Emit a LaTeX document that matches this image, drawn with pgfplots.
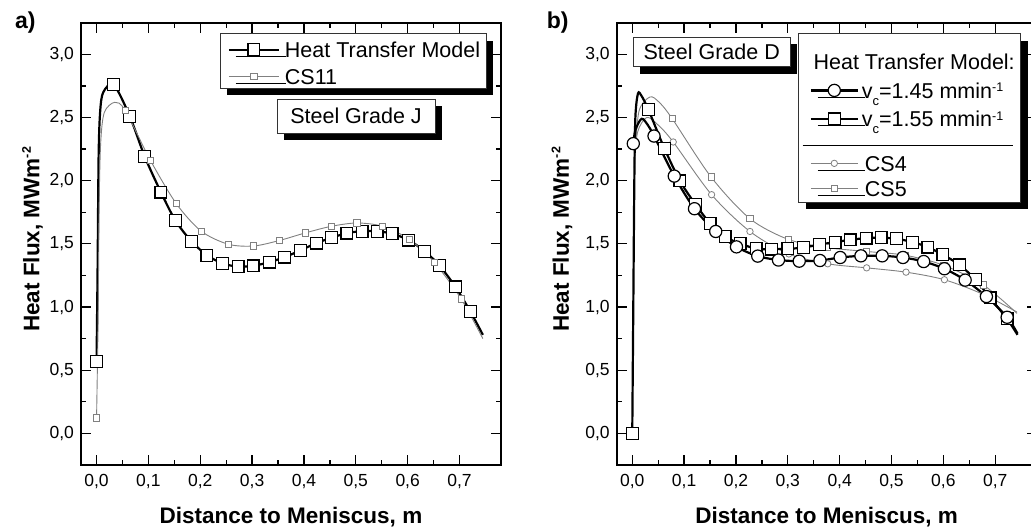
\documentclass[border=0pt]{standalone}
\usepackage{fontspec}
\setmainfont{Liberation Sans}
\usepackage{pgfplots}
\pgfplotsset{compat=1.18}
\usepackage{pgfplotstable}
\usetikzlibrary{shadows}
\definecolor{cgray}{RGB}{128,128,128}

\pgfplotstableread{
x y m
0.000 0.57 1
0.002 1.30 0
0.004 2.20 0
0.007 2.55 0
0.013 2.70 0
0.033 2.76 1
0.064 2.51 1
0.093 2.19 1
0.124 1.91 1
0.152 1.685 1
0.183 1.52 1
0.213 1.41 1
0.243 1.345 1
0.273 1.32 1
0.302 1.326 1
0.333 1.355 1
0.363 1.395 1
0.393 1.448 1
0.424 1.506 1
0.453 1.548 1
0.483 1.585 1
0.512 1.60 1
0.541 1.60 1
0.570 1.58 1
0.602 1.53 1
0.633 1.44 1
0.661 1.33 1
0.692 1.16 1
0.721 0.964 1
0.745 0.78 0
}\htmJ

\pgfplotstableread{
x y m
0.000 0.122 1
0.003 0.90 0
0.005 1.80 0
0.008 2.30 0
0.015 2.54 0
0.035 2.62 0
0.055 2.557 1
0.104 2.16 1
0.154 1.817 1
0.202 1.60 1
0.254 1.497 1
0.303 1.483 1
0.353 1.527 1
0.403 1.587 1
0.453 1.639 1
0.502 1.665 1
0.551 1.639 1
0.603 1.536 1
0.652 1.35 1
0.703 1.065 1
0.745 0.75 0
}\csEleven

\pgfplotstableread{
x y m
0.002 2.293 1
0.006 2.40 0
0.018 2.49 0
0.030 2.44 0
0.042 2.353 1
0.081 2.036 1
0.120 1.778 1
0.161 1.598 1
0.201 1.476 1
0.242 1.403 1
0.282 1.372 1
0.322 1.363 1
0.362 1.368 1
0.401 1.392 1
0.441 1.405 1
0.482 1.405 1
0.522 1.392 1
0.562 1.360 1
0.602 1.303 1
0.642 1.213 1
0.683 1.083 1
0.723 0.919 1
0.743 0.79 0
}\vOneFourFive

\pgfplotstableread{
x y m
0.000 0.000 1
0.002 1.00 0
0.004 2.00 0
0.006 2.50 0
0.011 2.69 0
0.018 2.67 0
0.031 2.563 1
0.062 2.255 1
0.092 1.998 1
0.122 1.812 1
0.150 1.663 1
0.179 1.557 1
0.208 1.502 1
0.239 1.462 1
0.268 1.458 1
0.300 1.461 1
0.330 1.470 1
0.361 1.495 1
0.391 1.513 1
0.420 1.532 1
0.451 1.545 1
0.480 1.548 1
0.510 1.540 1
0.541 1.513 1
0.570 1.474 1
0.599 1.414 1
0.631 1.334 1
0.662 1.216 1
0.690 1.073 1
0.723 0.906 1
0.743 0.78 0
}\vOneFiveFive

\pgfplotstableread{
x y m
0.004 2.10 0
0.010 2.38 0
0.028 2.50 0
0.050 2.44 0
0.079 2.306 1
0.153 1.889 1
0.227 1.598 1
0.302 1.420 1
0.377 1.342 1
0.452 1.310 1
0.528 1.276 1
0.602 1.216 1
0.677 1.100 1
0.742 0.960 0
}\csFour

\pgfplotstableread{
x y m
0.005 2.20 0
0.013 2.55 0
0.034 2.662 0
0.052 2.62 0
0.077 2.491 1
0.152 2.029 1
0.227 1.699 1
0.301 1.535 1
0.376 1.470 1
0.451 1.440 1
0.526 1.410 1
0.601 1.330 1
0.677 1.175 1
0.742 0.950 0
}\csFive

\pgfplotsset{
  htmline/.style={black, line width=2.2pt, smooth, tension=0.5, mark=none},
  csline/.style={cgray, line width=0.9pt, smooth, tension=0.5, mark=none},
  onlym/.style={only marks, restrict expr to domain={\thisrow{m}}{0.5:1.5}},
  bigsq/.style={onlym, mark=square*, mark size=5.9pt, mark options={fill=white, draw=black, line width=1.2pt}},
  bigci/.style={onlym, mark=*, mark size=6.1pt, mark options={fill=white, draw=black, line width=1.2pt}},
  smsq/.style={onlym, mark=square*, mark size=3.1pt, mark options={fill=white, draw=cgray, line width=0.8pt}},
  smci/.style={onlym, mark=*, mark size=3.2pt, mark options={fill=white, draw=cgray, line width=0.8pt}},
  legsqL/.style={legend image code/.code={
     \path (0pt,0pt);
     \draw[black, line width=2.2pt] (2pt,7.7pt) -- (52pt,7.7pt);
     \draw[only marks, mark=square*, mark size=5.9pt, mark options={fill=white, draw=black, line width=1.2pt}] plot coordinates {(27pt,7.7pt)};}},
  leggsqL/.style={legend image code/.code={
     \path (0pt,0pt);
     \draw[cgray, line width=0.9pt] (2pt,7.7pt) -- (52pt,7.7pt);
     \draw[only marks, mark=square*, mark size=3.1pt, mark options={fill=white, draw=cgray, line width=0.8pt}] plot coordinates {(27pt,7.7pt)};}},
  legciR/.style={legend image code/.code={
     \path (0pt,0pt);
     \draw[black, line width=2.2pt] (5.7pt,7.7pt) -- (52.7pt,7.7pt);
     \draw[only marks, mark=*, mark size=6.1pt, mark options={fill=white, draw=black, line width=1.2pt}] plot coordinates {(29.2pt,7.7pt)};}},
  legsqR/.style={legend image code/.code={
     \path (0pt,0pt);
     \draw[black, line width=2.2pt] (5.7pt,7.7pt) -- (52.7pt,7.7pt);
     \draw[only marks, mark=square*, mark size=5.9pt, mark options={fill=white, draw=black, line width=1.2pt}] plot coordinates {(29.2pt,7.7pt)};}},
  leggciR/.style={legend image code/.code={
     \path (0pt,0pt);
     \draw[cgray, line width=0.9pt] (5.7pt,7.7pt) -- (52.7pt,7.7pt);
     \draw[only marks, mark=*, mark size=3.2pt, mark options={fill=white, draw=cgray, line width=0.8pt}] plot coordinates {(29.2pt,7.7pt)};}},
  leggsqR/.style={legend image code/.code={
     \path (0pt,0pt);
     \draw[cgray, line width=0.9pt] (5.7pt,7.7pt) -- (52.7pt,7.7pt);
     \draw[only marks, mark=square*, mark size=3.1pt, mark options={fill=white, draw=cgray, line width=0.8pt}] plot coordinates {(29.2pt,7.7pt)};}},
  myaxis/.style={
    scale only axis, width=420pt, height=442.3pt,
    xmin=-0.03, xmax=0.78, ymin=-0.25, ymax=3.25,
    xtick={0,0.1,0.2,0.3,0.4,0.5,0.6,0.7},
    ytick={0,0.5,1,1.5,2,2.5,3},
    minor x tick num=1, minor y tick num=1,
    major tick length=10pt, minor tick length=5pt,
    tick style={black, line width=1.3pt},
    axis line style={black, line width=2pt},
    tick label style={font=\fontsize{17.5}{20}\selectfont},
    xticklabel style={yshift=-6pt},
    yticklabel style={xshift=-3.5pt},
    /pgf/number format/fixed,
    /pgf/number format/fixed zerofill,
    /pgf/number format/precision=1,
    /pgf/number format/use comma,
    /pgf/number format/assume math mode=true,
    xlabel={Distance to Meniscus, m},
    ylabel={Heat Flux, MWm\raisebox{8.5pt}{\fontsize{12.5}{12.5}\selectfont -2}},
    every axis x label/.style={at={(axis description cs:0.5,-0.1318)}, anchor=base,
       font=\bfseries\fontsize{22.5}{26}\selectfont},
    legend style={draw=black!80, line width=0.8pt, fill=white,
      font=\fontsize{21.5}{25}\selectfont,
      inner xsep=6pt, inner ysep=0pt, row sep=0pt,
      nodes={inner sep=0pt, text depth=, text height=},
      cells={anchor=base west},
      drop shadow={shadow xshift=7pt, shadow yshift=-7pt, fill=black, opacity=1}},
  },
}

\begin{document}
\begin{tikzpicture}[x=1pt,y=1pt]
% ---------- panel a ----------
\begin{axis}[myaxis, at={(81pt,64pt)}, anchor=south west,
  every axis y label/.style={at={(axis description cs:-0.0992,0.51)}, rotate=90, anchor=base,
       font=\bfseries\fontsize{22.5}{26}\selectfont},
  legend style={at={(axis description cs:0.331,0.976)}, anchor=north west}]
\addplot[htmline, forget plot] table {\htmJ};
\addplot[bigsq, forget plot] table {\htmJ};
\addplot[csline, forget plot] table {\csEleven};
\addplot[smsq, forget plot] table {\csEleven};
\addlegendimage{legsqL}
\addlegendentry{\rule[-5pt]{0pt}{28.7pt}\hspace{5pt}Heat Transfer Model}
\addlegendimage{leggsqL}
\addlegendentry{\rule[-4.3pt]{0pt}{26pt}\hspace{5pt}CS11}
\end{axis}
% ---------- panel b ----------
\begin{axis}[myaxis, at={(616.7pt,64pt)}, anchor=south west,
  every axis y label/.style={at={(axis description cs:-0.1136,0.51)}, rotate=90, anchor=base,
       font=\bfseries\fontsize{22.5}{26}\selectfont},
  legend style={at={(axis description cs:0.4324,0.976)}, anchor=north west}]
\addplot[csline, forget plot] table {\csFour};
\addplot[smci, forget plot] table {\csFour};
\addplot[csline, forget plot] table {\csFive};
\addplot[smsq, forget plot] table {\csFive};
\addplot[htmline, forget plot] table {\vOneFiveFive};
\addplot[bigsq, forget plot] table {\vOneFiveFive};
\addplot[htmline, forget plot] table {\vOneFourFive};
\addplot[bigci, forget plot] table {\vOneFourFive};
\addlegendimage{empty legend}
\addlegendentry{\rule[-6pt]{0pt}{41.4pt}\hspace{-45.3pt}Heat Transfer Model:}
\addlegendimage{legciR}
\addlegendentry{\rule[-6pt]{0pt}{29pt}\hspace{3pt}v\raisebox{-7pt}{\fontsize{13}{13}\selectfont c}=1.45 mmin\raisebox{6.4pt}{\fontsize{12.5}{12.5}\selectfont -1}}
\addlegendimage{legsqR}
\addlegendentry{\rule[-6pt]{0pt}{27.3pt}\hspace{3pt}v\raisebox{-7pt}{\fontsize{13}{13}\selectfont c}=1.55 mmin\raisebox{6.4pt}{\fontsize{12.5}{12.5}\selectfont -1}}
\addlegendimage{leggciR}
\addlegendentry{\rule[-6pt]{0pt}{43.4pt}\hspace{6pt}CS4}
\addlegendimage{leggsqR}
\addlegendentry{\rule[-5.9pt]{0pt}{24.9pt}\hspace{6pt}CS5}
\end{axis}
% ---------- boxes and labels ----------
\tikzset{gbox/.style={draw=black!80, line width=0.8pt, fill=white, inner sep=0pt,
   font=\fontsize{21.5}{25}\selectfont,
   drop shadow={shadow xshift=7pt, shadow yshift=-7pt, fill=black, opacity=1}}}
\node[gbox, minimum width=158pt, minimum height=34pt] at (356pt,412.7pt) {Steel Grade J};
\node[gbox, minimum width=156.7pt, minimum height=29.4pt] at (711.7pt,477pt) {Steel Grade D};
\draw[black, line width=0.8pt] (802.7pt,384pt) -- (1013.3pt,384pt);
\node[anchor=base west, font=\bfseries\fontsize{23}{26}\selectfont, inner sep=0pt] at (15pt,500pt) {a)};
\node[anchor=base west, font=\bfseries\fontsize{23}{26}\selectfont, inner sep=0pt] at (546.7pt,500pt) {b)};
\pgfresetboundingbox
\path[use as bounding box] (0pt,0pt) rectangle (1031pt,529pt);
\end{tikzpicture}
\end{document}
